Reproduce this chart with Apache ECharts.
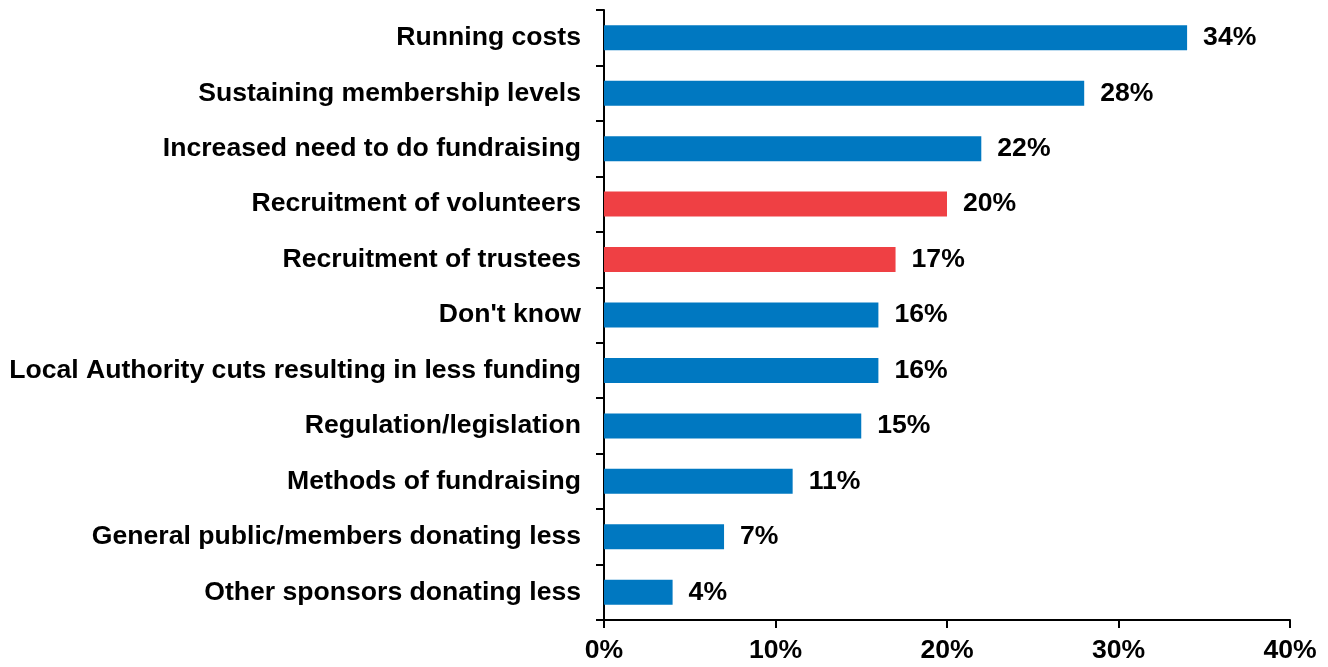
<!DOCTYPE html>
<html>
<head>
<meta charset="utf-8">
<script src="https://cdn.jsdelivr.net/npm/echarts@6/dist/echarts.min.js"></script>
<style>
  html, body { margin: 0; padding: 0; background: #fff; }
  #chart { width: 1328px; height: 667px; }
</style>
</head>
<body>
<div id="chart"></div>
<script>
// Pressures facing organisations, share of respondents (%), listed top to bottom
const categories = [
  'Running costs',
  'Sustaining membership levels',
  'Increased need to do fundraising',
  'Recruitment of volunteers',
  'Recruitment of trustees',
  "Don't know",
  'Local Authority cuts resulting in less funding',
  'Regulation/legislation',
  'Methods of fundraising',
  'General public/members donating less',
  'Other sponsors donating less'
];
const values = [34, 28, 22, 20, 17, 16, 16, 15, 11, 7, 4];
// Categories drawn in the accent colour
const highlighted = ['Recruitment of volunteers', 'Recruitment of trustees'];
const xTicks = [0, 10, 20, 30, 40];

const BLUE = '#0078C1';
const RED = '#EF4044';
const FONT = 'Liberation Sans, Arial, sans-serif';
const FONT_SIZE = 26.6;

// ECharts category axes run bottom-up, so reverse for a top-down list
const cats = categories.slice().reverse();
const vals = values.slice().reverse();

const chart = echarts.init(document.getElementById('chart'), null, { renderer: 'canvas' });
chart.setOption({
  animation: false,
  grid: { left: 604, right: 38, top: 10, bottom: 47, containLabel: false },
  xAxis: {
    type: 'value',
    min: xTicks[0],
    max: xTicks[xTicks.length - 1],
    interval: 10,
    axisLine: { show: true, lineStyle: { color: '#000', width: 2 } },
    axisTick: { show: true, length: 8, lineStyle: { color: '#000', width: 2 } },
    splitLine: { show: false },
    axisLabel: {
      margin: 17,
      color: '#000',
      fontFamily: FONT,
      fontWeight: 'bold',
      fontSize: FONT_SIZE,
      formatter: v => v + '%'
    }
  },
  yAxis: {
    type: 'category',
    data: cats,
    axisLine: { show: true, lineStyle: { color: '#000', width: 2 } },
    axisTick: { show: true, length: 8, lineStyle: { color: '#000', width: 2 } },
    axisLabel: {
      margin: 23,
      color: '#000',
      fontFamily: FONT,
      fontWeight: 'bold',
      fontSize: FONT_SIZE
    }
  },
  series: [{
    type: 'bar',
    data: vals.map((v, i) => ({
      value: v,
      itemStyle: { color: highlighted.includes(cats[i]) ? RED : BLUE }
    })),
    barWidth: 25,
    label: {
      show: true,
      position: 'right',
      distance: 16,
      color: '#000',
      fontFamily: FONT,
      fontWeight: 'bold',
      fontSize: FONT_SIZE,
      formatter: p => p.value + '%'
    }
  }]
});
</script>
</body>
</html>
